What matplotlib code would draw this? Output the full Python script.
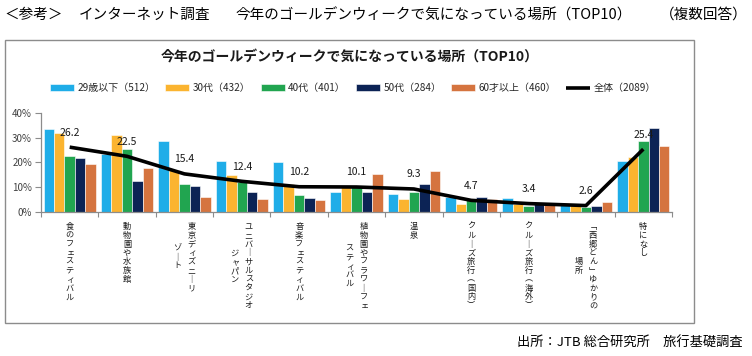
import matplotlib
matplotlib.use("Agg")
import matplotlib.pyplot as plt
from matplotlib.patches import Rectangle
import numpy as np

plt.rcParams['font.family'] = ['Noto Sans CJK JP', 'DejaVu Sans']

# data (percent)
places = ["食のフェスティバル", "動物園や水族館", "東京ディズニーリゾート",
          "ユニバーサルスタジオジャパン", "音楽フェスティバル",
          "植物園やフラワーフェスティバル", "温泉", "クルーズ旅行（国内）",
          "クルーズ旅行（海外）", "「西郷どん」ゆかりの場所", "特になし"]
# how the axis labels wrap into vertical columns (right column first)
label_cols = [["食のフェスティバル"], ["動物園や水族館"], ["東京ディズニーリ", "ゾート"],
              ["ユニバーサルスタジオ", "ジャパン"], ["音楽フェスティバル"],
              ["植物園やフラワーフェ", "スティバル"], ["温泉"], ["クルーズ旅行（国内）"],
              ["クルーズ旅行（海外）"], ["「西郷どん」ゆかりの", "場所"], ["特になし"]]

series_names = ["29歳以下（512）", "30代（432）", "40代（401）", "50代（284）", "60才以上（460）"]
age_29 = [33.7, 23.6, 28.6, 20.5, 20.1, 7.9, 7.1, 6.1, 5.5, 3.0, 20.5]
age_30 = [32.0, 31.2, 17.1, 14.8, 11.4, 10.5, 5.1, 3.1, 3.4, 3.0, 22.2]
age_40 = [22.5, 25.6, 11.4, 12.1, 6.9, 10.1, 7.9, 4.7, 2.4, 2.0, 28.6]
age_50 = [21.8, 12.4, 10.4, 7.9, 5.7, 7.9, 11.4, 5.9, 3.8, 2.4, 34.1]
age_60 = [19.3, 17.8, 6.1, 5.3, 4.7, 15.2, 16.4, 5.4, 3.1, 4.0, 26.5]
total_name = "全体（2089）"
total = [26.2, 22.5, 15.4, 12.4, 10.2, 10.1, 9.3, 4.7, 3.4, 2.6, 25.4]

colors = ["#1fade8", "#fbb430", "#21a550", "#0c2355", "#d5743f"]

W, H = 752, 356
fig = plt.figure(figsize=(W / 100, H / 100), dpi=100)

# outer chart frame
fig.patches.append(Rectangle((5 / W, 33 / H), 689 / W, 283 / H, transform=fig.transFigure,
                             fill=False, edgecolor="#8c8c8c", linewidth=1.0))

ax = fig.add_axes([41 / W, 1 - 212 / H, 631 / W, 99 / H])

x = np.arange(len(places))
bw = 0.182
all_series = [age_29, age_30, age_40, age_50, age_60]
handles = []
for k, vals in enumerate(all_series):
    b = ax.bar(x + (k - 2) * bw, vals, bw, color=colors[k], edgecolor="white",
               linewidth=0.4, label=series_names[k])
    handles.append(b)

ln, = ax.plot(x, total, color="black", linewidth=2.6, solid_joinstyle="round",
              solid_capstyle="butt", label=total_name)
handles.append(ln)
for xi, v in zip(x, total):
    ax.annotate(f"{v:.1f}", xy=(xi, v), xytext=(0, 10.5), textcoords="offset points",
                ha="center", va="center", fontsize=7.5, color="#1a1a1a")

ax.set_xlim(-0.5, len(places) - 0.5)
ax.set_ylim(0, 40)
ax.set_yticks([0, 10, 20, 30, 40])
ax.set_yticklabels([f"{t}%" for t in [0, 10, 20, 30, 40]])
ax.set_xticks(np.arange(-0.5, len(places), 1.0))
ax.set_xticklabels([])
for s in ["top", "right"]:
    ax.spines[s].set_visible(False)
for s in ["left", "bottom"]:
    ax.spines[s].set_color("#8c8c8c")
    ax.spines[s].set_linewidth(0.9)
ax.tick_params(axis="y", length=4.5, width=0.8, color="#8c8c8c", labelsize=7,
               labelcolor="#404040", pad=2)
ax.tick_params(axis="x", length=3.5, width=0.8, color="#8c8c8c")

# vertical (tategaki) category labels, one character at a time
vert_map = {"ー": "｜", "（": "︵", "）": "︶", "「": "﹁", "」": "﹂"}
small_kana = set("ィェュャォッ")
step = 8.8 * 0.72   # points per character
col_gap = 14 * 0.72
top = 10 * 0.72
for i, cols in enumerate(label_cols):
    n = max(len(c) for c in cols)
    ncol = len(cols)
    for j, col in enumerate(cols):
        dx = ((ncol - 1) / 2 - j) * col_gap
        y0 = top + (n - len(col)) * step / 2
        for m, ch in enumerate(col):
            ox = 1.0 if ch in small_kana else 0
            ax.annotate(vert_map.get(ch, ch), xy=(i, 0), xycoords="data",
                        xytext=(dx + ox, -(y0 + m * step + step / 2)),
                        textcoords="offset points", ha="center", va="center",
                        fontsize=5.9, color="#1a1a1a", annotation_clip=False)

fig.legend(handles, series_names + [total_name], loc="center",
           bbox_to_anchor=(353 / W, 1 - 88 / H), ncol=6, frameon=False,
           fontsize=7.2, handlelength=2.4, handleheight=0.7, handletextpad=0.35,
           columnspacing=1.0, labelcolor="#262626")

fig.text(349.5 / W, 1 - 57 / H, "今年のゴールデンウィークで気になっている場所（TOP10）",
         ha="center", va="center", fontsize=10, fontweight="bold", color="#1a1a1a")

hy = 1 - 15 / H
fig.text(4 / W, hy, "＜参考＞", ha="left", va="center", fontsize=10.5, color="black")
fig.text(79 / W, hy, "インターネット調査", ha="left", va="center", fontsize=10.5, color="black")
fig.text(235 / W, hy, "今年のゴールデンウィークで気になっている場所（TOP10）", ha="left",
         va="center", fontsize=10.5, color="black")
fig.text(748 / W, hy, "（複数回答）", ha="right", va="center", fontsize=10.5, color="black")

fig.text(743 / W, 1 - 343 / H, "出所：JTB 総合研究所　旅行基礎調査", ha="right", va="center",
         fontsize=9.5, color="black")

fig.savefig("out.png", dpi=100)
